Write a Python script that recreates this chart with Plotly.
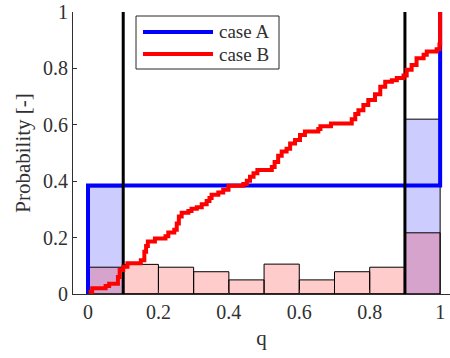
import plotly.graph_objects as go

# ---------------- data ----------------
bin_centers = [0.05, 0.15, 0.25, 0.35, 0.45, 0.55, 0.65, 0.75, 0.85, 0.95]
caseA_hist = [0.38, 0, 0, 0, 0, 0, 0, 0, 0, 0.62]
caseB_hist = [0.095, 0.105, 0.095, 0.079, 0.05, 0.106, 0.05, 0.079, 0.095, 0.217]

caseA_q = [0.0, 0.0, 1.0, 1.0]
caseA_p = [0.0, 0.385, 0.385, 1.0]

caseB_q = [0.0, 0.012, 0.05, 0.06, 0.085, 0.09, 0.1, 0.112, 0.15, 0.16, 0.165, 0.17,
           0.19, 0.22, 0.228, 0.245, 0.252, 0.258, 0.266, 0.285, 0.294, 0.309, 0.323,
           0.337, 0.345, 0.351, 0.37, 0.384, 0.399, 0.441, 0.451, 0.46, 0.47, 0.481,
           0.522, 0.53, 0.54, 0.55, 0.564, 0.574, 0.588, 0.602, 0.616, 0.654, 0.66,
           0.69, 0.749, 0.759, 0.768, 0.782, 0.796, 0.815, 0.83, 0.844, 0.863, 0.877,
           0.896, 0.905, 0.919, 0.933, 0.953, 0.962, 0.99, 0.998, 1.0]
caseB_p = [0.008, 0.02, 0.028, 0.036, 0.06, 0.085, 0.097, 0.109, 0.12, 0.15, 0.17, 0.186,
           0.197, 0.205, 0.218, 0.228, 0.25, 0.275, 0.288, 0.294, 0.302, 0.308, 0.318,
           0.33, 0.34, 0.352, 0.36, 0.37, 0.384, 0.39, 0.402, 0.416, 0.428, 0.44,
           0.45, 0.468, 0.49, 0.505, 0.515, 0.534, 0.546, 0.564, 0.576, 0.585, 0.595,
           0.605, 0.62, 0.638, 0.652, 0.67, 0.688, 0.708, 0.735, 0.753, 0.758, 0.766,
           0.775, 0.795, 0.812, 0.836, 0.848, 0.86, 0.868, 0.885, 1.0]

thresholds = [0.1, 0.9]
series_names = ["case A", "case B"]
x_ticks = [0, 0.2, 0.4, 0.6, 0.8, 1]
x_tick_labels = ["0", "0.2", "0.4", "0.6", "0.8", "1"]
y_ticks = [0, 0.2, 0.4, 0.6, 0.8, 1]
y_tick_labels = ["0", "0.2", "0.4", "0.6", "0.8", "1"]

# ---------------- figure ----------------
FONT = "Liberation Serif, Times New Roman, serif"
TXT = "#303030"
BLUE = "#0000ff"
RED = "#ff0000"

fig = go.Figure()

fig.add_trace(go.Bar(x=bin_centers, y=caseA_hist, width=0.1,
                     marker=dict(color="rgba(0,0,255,0.2)", line=dict(color="black", width=1)),
                     showlegend=False, hoverinfo="skip"))
fig.add_trace(go.Bar(x=bin_centers, y=caseB_hist, width=0.1,
                     marker=dict(color="rgba(255,0,0,0.2)", line=dict(color="black", width=1)),
                     showlegend=False, hoverinfo="skip"))

fig.add_trace(go.Scatter(x=caseA_q, y=caseA_p, mode="lines", name=series_names[0],
                         line=dict(color=BLUE, width=4), showlegend=False))

for t in thresholds:
    fig.add_trace(go.Scatter(x=[t, t], y=[0, 1], mode="lines",
                             line=dict(color="black", width=3), showlegend=False))

fig.add_trace(go.Scatter(x=caseB_q, y=caseB_p, mode="lines", name=series_names[1],
                         line=dict(color=RED, width=4, shape="hv"), showlegend=False))

# ---------------- manual legend (MATLAB style) ----------------
L, T, W, H = 136, 16, 279, 69  # pixel box
fig_w, fig_h = 450, 358
ml, mr, mt, mb = 73, 0, 12, 64
pw, ph = fig_w - ml - mr, fig_h - mt - mb

def px(xp):
    return (xp - ml) / pw

def py(yp):
    return (fig_h - mb - yp) / ph

shapes = [dict(type="rect", xref="paper", yref="paper",
               x0=px(L), x1=px(W), y0=py(H), y1=py(T),
               line=dict(color="#262626", width=1), fillcolor="white", layer="above")]
annotations = []
for i, (nm, col) in enumerate(zip(series_names, [BLUE, RED])):
    yy = 32 + i * 22
    shapes.append(dict(type="line", xref="paper", yref="paper",
                       x0=px(143), x1=px(213), y0=py(yy), y1=py(yy),
                       line=dict(color=col, width=4), layer="above"))
    annotations.append(dict(text=nm, xref="paper", yref="paper", x=px(217), y=py(yy),
                            xanchor="left", yanchor="middle", showarrow=False,
                            font=dict(family=FONT, size=19, color=TXT)))

fig.update_layout(
    width=fig_w, height=fig_h,
    margin=dict(l=ml, r=mr, t=mt, b=mb, autoexpand=False),
    paper_bgcolor="white", plot_bgcolor="white",
    barmode="overlay", bargap=0,
    showlegend=False,
    shapes=shapes, annotations=annotations,
    font=dict(family=FONT, size=20, color=TXT),
    xaxis=dict(range=[-0.0426, 1.028], tickvals=x_ticks, ticktext=x_tick_labels,
               automargin=False,
               showgrid=False, zeroline=False, showline=True, linecolor=TXT, linewidth=1,
               ticks="inside", ticklen=4, tickcolor=TXT,
               tickfont=dict(family=FONT, size=20, color=TXT),
               title=dict(text="q", font=dict(family=FONT, size=21, color=TXT), standoff=8)),
    yaxis=dict(range=[0, 1], tickvals=y_ticks, ticktext=y_tick_labels,
               automargin=False,
               showgrid=False, zeroline=False, showline=True, linecolor=TXT, linewidth=1,
               ticks="inside", ticklen=4, tickcolor=TXT,
               tickfont=dict(family=FONT, size=20, color=TXT),
               title=dict(text="Probability [-]", font=dict(family=FONT, size=21, color=TXT), standoff=6)),
)

fig.write_html("out.html", config={"displayModeBar": False, "staticPlot": True},
               post_script="document.body.style.margin='0px';document.body.style.overflow='hidden';")
